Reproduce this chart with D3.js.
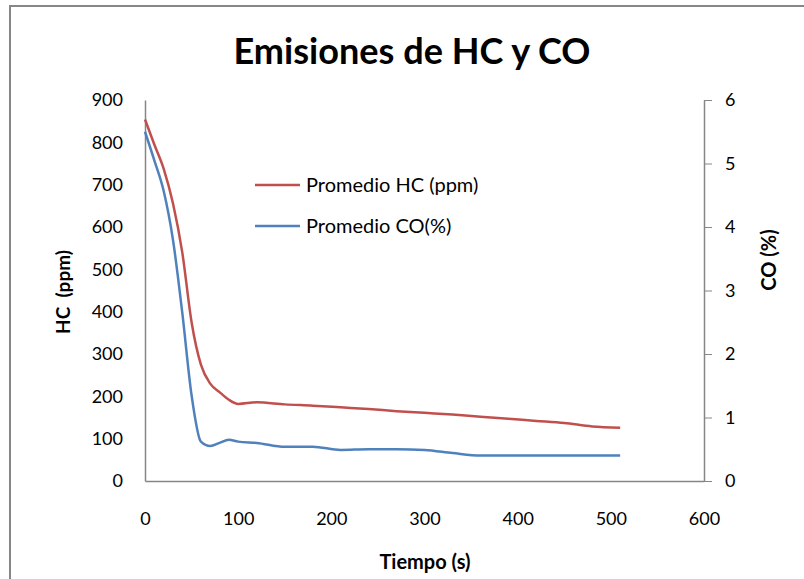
<!DOCTYPE html>
<html>
<head>
<meta charset="utf-8">
<script src="https://cdn.jsdelivr.net/npm/d3@7"></script>
<style>
  body { margin: 0; background: #fff; }
  svg { display: block; font-family: Lato, 'Open Sans', sans-serif; }
</style>
</head>
<body>
<svg width="804" height="579"></svg>
<script>
// time (s)
const tiempo = [0, 10, 20, 30, 40, 50, 60, 70, 80, 90, 100, 120, 150, 180, 210, 240, 270, 300, 330, 360, 390, 420, 450, 480, 510]
// Promedio HC (ppm)
const hc = [854, 795, 738, 656, 540, 375, 275, 230, 210, 192, 182, 186, 181, 178, 174, 170, 165, 161, 157, 152, 147, 142, 137, 129, 126]
// Promedio CO (%)
const co = [5.50, 5.05, 4.57, 3.80, 2.65, 1.35, 0.62, 0.55, 0.60, 0.65, 0.62, 0.60, 0.54, 0.54, 0.49, 0.50, 0.50, 0.49, 0.44, 0.40, 0.40, 0.40, 0.40, 0.40, 0.40]

const xTicks = [0, 100, 200, 300, 400, 500, 600]
const hcTicks = [0, 100, 200, 300, 400, 500, 600, 700, 800, 900]
const coTicks = [0, 1, 2, 3, 4, 5, 6]

const svg = d3.select('svg')
const gray = '#868686'

// chart border
svg.append('rect')
  .attr('x', 10).attr('y', 6)
  .attr('width', 820).attr('height', 600)
  .attr('fill', 'none')
  .attr('stroke', gray)
  .attr('stroke-width', 2)

const x = d3.scaleLinear().domain([0, 600]).range([145, 704])
const yHC = d3.scaleLinear().domain([0, 900]).range([481, 100])
const yCO = d3.scaleLinear().domain([0, 6]).range([481, 100])

svg.append('text')
  .attr('x', 412)
  .attr('y', 64)
  .attr('text-anchor', 'middle')
  .attr('font-size', 37)
  .attr('font-weight', 'bold')
  .attr('textLength', 357)
  .attr('lengthAdjust', 'spacingAndGlyphs')
  .text('Emisiones de HC y CO')

// left axis
const gl = svg.append('g')
  .attr('transform', 'translate(145,0)')
  .call(d3.axisLeft(yHC).tickValues(hcTicks).tickSize(0).tickPadding(22))
gl.select('.domain').attr('stroke', gray).attr('stroke-width', 1.5)

// right axis
const gr = svg.append('g')
  .attr('transform', 'translate(704,0)')
  .call(d3.axisRight(yCO).tickValues(coTicks).tickFormat(d3.format('d'))
    .tickSizeInner(8).tickSizeOuter(0).tickPadding(13))
gr.select('.domain').attr('stroke', gray).attr('stroke-width', 1.5)
gr.selectAll('.tick line').attr('stroke', gray)

// bottom axis
const gb = svg.append('g')
  .attr('transform', 'translate(0,481)')
  .call(d3.axisBottom(x).tickValues(xTicks).tickSize(0).tickPadding(31))
gb.select('.domain').attr('stroke', gray).attr('stroke-width', 1.5)

svg.selectAll('.tick text')
  .attr('font-family', 'Lato, sans-serif')
  .attr('font-size', 18)
  .attr('fill', '#000')

// axis titles
svg.append('text')
  .attr('transform', 'translate(70,292) rotate(-90)')
  .attr('text-anchor', 'middle')
  .attr('font-size', 19)
  .attr('font-weight', 'bold')
  .style('white-space', 'pre')
  .text('HC  (ppm)')

svg.append('text')
  .attr('transform', 'translate(776,260) rotate(-90)')
  .attr('text-anchor', 'middle')
  .attr('font-size', 20)
  .attr('font-weight', 'bold')
  .text('CO (%)')

svg.append('text')
  .attr('x', 425)
  .attr('y', 569)
  .attr('text-anchor', 'middle')
  .attr('font-size', 20)
  .attr('font-weight', 'bold')
  .text('Tiempo (s)')

// lines
const series = [
  { name: 'Promedio HC (ppm)', values: hc, y: yHC, color: '#C0504D' },
  { name: 'Promedio CO(%)', values: co, y: yCO, color: '#4F81BD' }
]

series.forEach(s => {
  const line = d3.line()
    .x((d, i) => x(tiempo[i]))
    .y(d => s.y(d))
    .curve(d3.curveMonotoneX)
  svg.append('path')
    .datum(s.values)
    .attr('d', line)
    .attr('fill', 'none')
    .attr('stroke', s.color)
    .attr('stroke-width', 2.5)
})

// legend
const legend = svg.append('g').attr('transform', 'translate(255,185)')
series.forEach((s, i) => {
  const g = legend.append('g').attr('transform', `translate(0,${i * 41})`)
  g.append('line')
    .attr('x1', 0).attr('x2', 45)
    .attr('stroke', s.color)
    .attr('stroke-width', 2.5)
  g.append('text')
    .attr('x', 51)
    .attr('dy', '0.35em')
    .attr('font-size', 20)
    .text(s.name)
})
</script>
</body>
</html>
